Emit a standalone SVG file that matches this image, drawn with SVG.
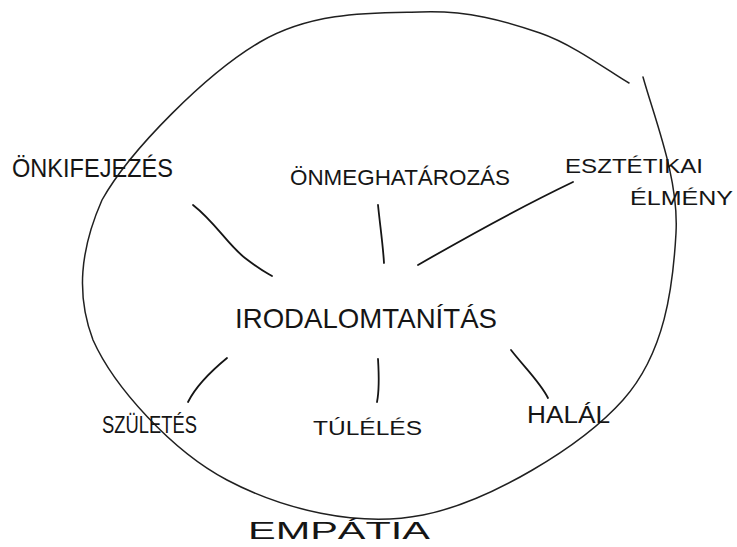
<svg xmlns="http://www.w3.org/2000/svg" width="737" height="547" viewBox="0 0 737 547">
<style>
.t{font-family:"Liberation Sans","DejaVu Sans",sans-serif;fill:#151515;}
.ln{fill:none;stroke:#151515;stroke-width:1.8;stroke-linecap:round;}
.ring{fill:none;stroke:#202020;stroke-width:1.5;stroke-linecap:round;}
</style>
<rect width="737" height="547" fill="#ffffff"/>
<g id="empatia">
<path class="ring" d="M643,77 C655,120 679,179 676,233 C673,287 665,353 623,400 C581,447 489,502 423,515 C357,528 282,509 227,480 C172,451 114,387 93,340 C76,295 80,250 102,200 C130,150 207,73 260,42 C313,11 373,13 420,12 C467,10 505,21 540,33 C575,45 614,75 629,83"/>
<text class="t" x="248" y="539" font-size="24" textLength="182" lengthAdjust="spacingAndGlyphs">EMPÁTIA</text>
</g>
<g id="connectors">
<path class="ln" d="M193,205 C215,222 228,245 245,258 S265,272 272,276"/>
<path class="ln" d="M378,205 C380,225 383,245 384,263" stroke-width="2.2"/>
<path class="ln" d="M418,265 C470,235 525,205 573,182"/>
<path class="ln" d="M227,358 C210,372 195,388 188,402"/>
<path class="ln" d="M378,359 C379,375 379,392 377,402"/>
<path class="ln" d="M511,350 C525,368 540,382 548,398"/>
</g>
<g id="center"><text class="t" x="235" y="328" font-size="28" textLength="262" lengthAdjust="spacingAndGlyphs">IRODALOMTANÍTÁS</text></g>
<g id="onkifejezes"><text class="t" x="12" y="177" font-size="25" textLength="161" lengthAdjust="spacingAndGlyphs">ÖNKIFEJEZÉS</text></g>
<g id="onmeghatarozas"><text class="t" x="290" y="185" font-size="22" textLength="220" lengthAdjust="spacingAndGlyphs">ÖNMEGHATÁROZÁS</text></g>
<g id="esztetikai"><text class="t" x="565" y="173" font-size="21" textLength="138" lengthAdjust="spacingAndGlyphs">ESZTÉTIKAI</text><text class="t" x="630" y="205" font-size="21" textLength="103" lengthAdjust="spacingAndGlyphs">ÉLMÉNY</text></g>
<g id="szuletes"><text class="t" x="102" y="433" font-size="24" textLength="95" lengthAdjust="spacingAndGlyphs">SZÜLETÉS</text></g>
<g id="tuleles"><text class="t" x="313" y="435" font-size="20" textLength="109" lengthAdjust="spacingAndGlyphs">TÚLÉLÉS</text></g>
<g id="halal"><text class="t" x="527" y="423" font-size="23" textLength="83" lengthAdjust="spacingAndGlyphs">HALÁL</text></g>
</svg>
